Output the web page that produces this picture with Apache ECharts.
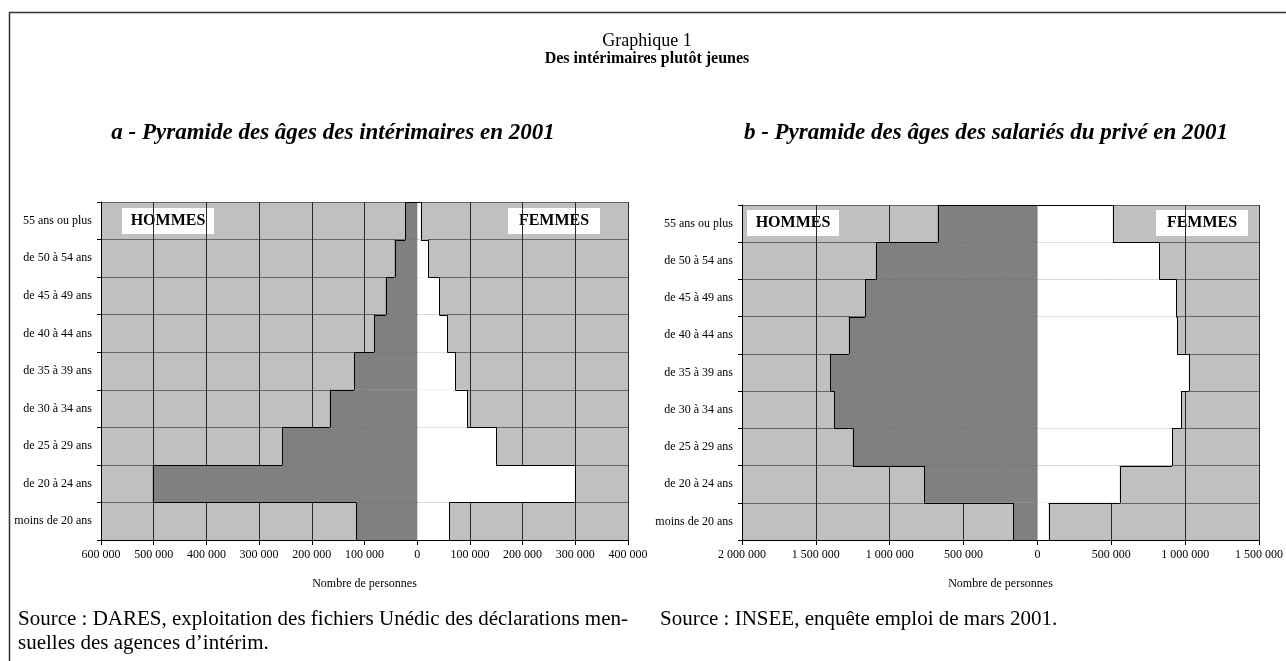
<!DOCTYPE html>
<html>
<head>
<meta charset="utf-8">
<script src="https://cdn.jsdelivr.net/npm/echarts@6/dist/echarts.min.js"></script>
<style>
  html, body { margin: 0; padding: 0; background: #fff; }
  #chart { width: 1286px; height: 661px; }
</style>
</head>
<body>
<div id="chart"></div>
<script>
// tranches d'âge, du bas vers le haut de la pyramide
var ageGroups = ['moins de 20 ans', 'de 20 à 24 ans', 'de 25 à 29 ans', 'de 30 à 34 ans',
  'de 35 à 39 ans', 'de 40 à 44 ans', 'de 45 à 49 ans', 'de 50 à 54 ans', '55 ans ou plus'];

// a - intérimaires en 2001
var interimHommes = [116000, 502000, 256000, 166000, 120000, 82000, 60000, 43000, 23000];
var interimFemmes = [61000, 299000, 150000, 95000, 72000, 57000, 42000, 21000, 7000];

// b - salariés du privé en 2001
var priveHommes = [163000, 768000, 1250000, 1377000, 1404000, 1277000, 1167000, 1094000, 676000];
var priveFemmes = [76000, 557000, 912000, 972000, 1025000, 945000, 941000, 825000, 510000];

// graduations des axes horizontaux [min, max, pas]
var ticksA = [-600000, 400000, 100000];
var ticksB = [-2000000, 1500000, 500000];

var FONT = 'Liberation Serif';
var LIGHT = '#c0c0c0';
var DARK = '#808080';

function fmt(v) {
  return String(Math.abs(v)).replace(/\B(?=(\d{3})+(?!\d))/g, ' ');
}

// [valeur, index, valeur en dessous, valeur au dessus]
function stepData(arr, sign) {
  return arr.map(function (v, i) {
    var below = i > 0 ? arr[i - 1] : 0;
    var above = i < arr.length - 1 ? arr[i + 1] : 0;
    return [sign * v, i, sign * below, sign * above];
  });
}

function xAxisFor(idx, ticks) {
  return {
    gridIndex: idx,
    type: 'value',
    min: ticks[0],
    max: ticks[1],
    interval: ticks[2],
    axisLine: { show: true, onZero: false, lineStyle: { color: '#000', width: 1 } },
    axisTick: { show: true, length: 5, lineStyle: { color: '#000' } },
    axisLabel: { formatter: fmt, color: '#000', fontFamily: FONT, fontSize: 12, margin: 9 },
    splitLine: { show: true, lineStyle: { color: '#2a2a2a', width: 1 } },
    name: 'Nombre de personnes',
    nameLocation: 'middle',
    nameGap: 38,
    nameTextStyle: { color: '#000', fontFamily: FONT, fontSize: 12 }
  };
}

function yAxesFor(idx) {
  return [
    {
      gridIndex: idx,
      type: 'category',
      data: ageGroups,
      axisLine: { show: false },
      axisTick: { show: false },
      axisLabel: { color: '#000', fontFamily: FONT, fontSize: 12, margin: 9 },
      splitLine: { show: true, lineStyle: { color: '#666', width: 1 } }
    },
    {
      // axe vertical placé sur le zéro
      gridIndex: idx,
      type: 'category',
      data: ageGroups,
      position: 'left',
      z: 5,
      axisLine: { show: true, onZero: true, lineStyle: { color: '#000', width: 1 } },
      axisTick: { show: true, length: 4, lineStyle: { color: '#000' } },
      axisLabel: { show: false },
      splitLine: { show: false }
    }
  ];
}

function px(v) { return Math.round(v) + 0.5; }

// barre pleine + contour en escalier (comme la pyramide d'origine)
function renderStep(fill) {
  return function (params, api) {
    var v = api.value(0), i = api.value(1), below = api.value(2), above = api.value(3);
    var p0 = api.coord([0, i]);
    var p = api.coord([v, i]);
    var h = api.size([0, 1])[1];
    var top = p[1] - h / 2, bot = p[1] + h / 2;
    var xa = Math.min(p0[0], p[0]), xb = Math.max(p0[0], p[0]);
    var line = { stroke: '#000', lineWidth: 1 };
    var kids = [
      { type: 'rect', shape: { x: xa, y: top, width: xb - xa, height: h }, style: { fill: fill } },
      { type: 'line', shape: { x1: px(p[0]), y1: top, x2: px(p[0]), y2: bot }, style: line }
    ];
    if (Math.abs(v) > Math.abs(above)) {
      var xu = api.coord([above, i])[0];
      kids.push({ type: 'line', shape: { x1: xu, y1: px(top), x2: p[0], y2: px(top) }, style: line });
    }
    if (Math.abs(v) > Math.abs(below)) {
      var xd = api.coord([below, i])[0];
      kids.push({ type: 'line', shape: { x1: xd, y1: px(bot), x2: p[0], y2: px(bot) }, style: line });
    }
    return { type: 'group', children: kids };
  };
}

function barsFor(idx, hommes, femmes) {
  var base = {
    type: 'custom',
    xAxisIndex: idx,
    yAxisIndex: idx * 2,
    encode: { x: 0, y: 1 },
    silent: true
  };
  return [
    Object.assign({}, base, { name: 'Hommes', data: stepData(hommes, -1), renderItem: renderStep(DARK) }),
    Object.assign({}, base, { name: 'Femmes', data: stepData(femmes, 1), renderItem: renderStep('#fff') })
  ];
}

function tag(x, y, label) {
  return {
    type: 'group',
    left: x, top: y,
    children: [
      { type: 'rect', shape: { x: 0, y: 0, width: 92, height: 26 }, style: { fill: '#fff' } },
      { type: 'text', x: 46, y: 13, style: { text: label, fill: '#000', font: 'bold 16px "' + FONT + '"', textAlign: 'center', textVerticalAlign: 'middle' } }
    ]
  };
}

function txt(x, y, s, font, align) {
  return { type: 'text', x: x, y: y, style: { text: s, fill: '#000', font: font, textAlign: align || 'left', textVerticalAlign: 'middle' } };
}

var chart = echarts.init(document.getElementById('chart'));
chart.setOption({
  animation: false,
  backgroundColor: '#fff',
  grid: [
    { left: 101, top: 202, width: 527, height: 338, show: true, backgroundColor: LIGHT, borderWidth: 0 },
    { left: 742, top: 205, width: 523, height: 335, show: true, backgroundColor: LIGHT, borderWidth: 0 }
  ],
  xAxis: [xAxisFor(0, ticksA), xAxisFor(1, ticksB)],
  yAxis: yAxesFor(0).concat(yAxesFor(1)),
  series: barsFor(0, interimHommes, interimFemmes).concat(barsFor(1, priveHommes, priveFemmes)),
  graphic: [
    { type: 'rect', shape: { x: 9.5, y: 12.5, width: 1300, height: 700 }, style: { fill: 'none', stroke: '#333', lineWidth: 1.5 }, z: -1 },
    txt(647, 41, 'Graphique 1', '18px "' + FONT + '"', 'center'),
    txt(647, 59, 'Des intérimaires plutôt jeunes', 'bold 16px "' + FONT + '"', 'center'),
    txt(333, 133, 'a - Pyramide des âges des intérimaires en 2001', 'italic bold 23px "' + FONT + '"', 'center'),
    txt(986, 133, 'b - Pyramide des âges des salariés du privé en 2001', 'italic bold 23px "' + FONT + '"', 'center'),
    tag(122, 208, 'HOMMES'),
    tag(508, 208, 'FEMMES'),
    tag(747, 210, 'HOMMES'),
    tag(1156, 210, 'FEMMES'),
    txt(18, 619, 'Source : DARES, exploitation des fichiers Unédic des déclarations men-', '21px "' + FONT + '"'),
    txt(18, 643, 'suelles des agences d\u2019intérim.', '21px "' + FONT + '"'),
    txt(660, 619, 'Source : INSEE, enquête emploi de mars 2001.', '21px "' + FONT + '"')
  ]
});
</script>
</body>
</html>
